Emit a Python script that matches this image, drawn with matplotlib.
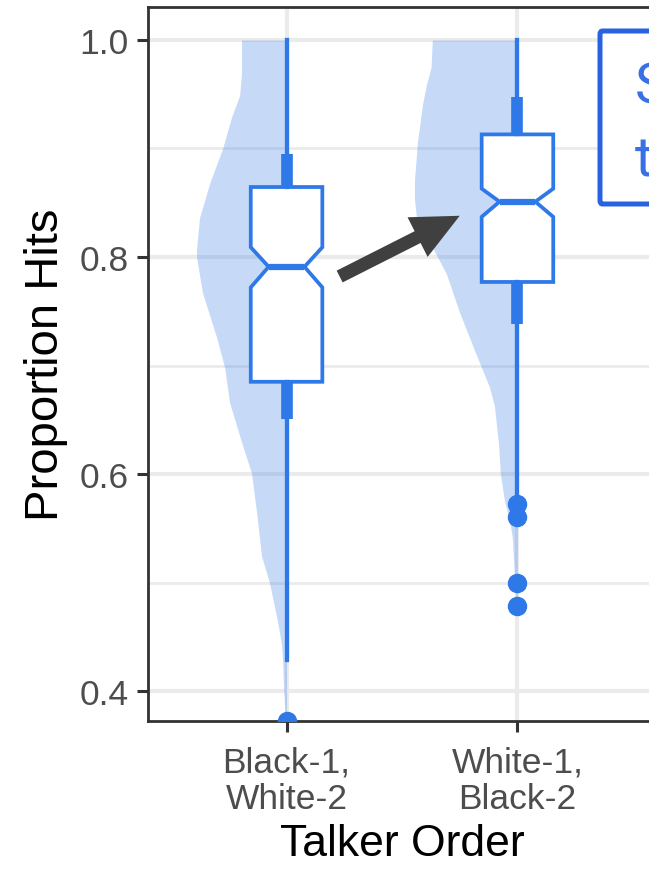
import matplotlib
matplotlib.use("Agg")
import matplotlib.pyplot as plt
from matplotlib.patches import FancyArrowPatch, FancyBboxPatch

plt.rcParams['font.family'] = ['Liberation Sans', 'DejaVu Sans']

BLUE = '#2e78e8'
GRID = '#ebebeb'
FRAME = '#333333'

# talker order groups
groups = ['Black-1,\nWhite-2', 'White-1,\nBlack-2']

# box summaries (proportion hits)
q1 = [0.685, 0.777]
med = [0.791, 0.851]
q3 = [0.8645, 0.913]
notch_lo = [0.772, 0.837]
notch_hi = [0.809, 0.863]
whisk_lo = [0.429, 0.578]
whisk_hi = [1.0, 1.0]
inner_lo = [0.651, 0.738]   # thick inner whisker segment
inner_hi = [0.895, 0.947]
fliers = [[0.372], [0.572, 0.560, 0.500, 0.478]]

# half-violin outline: proportion level and half width
vio1_y = [1.0, 0.970, 0.949, 0.929, 0.900, 0.868, 0.836, 0.807, 0.80, 0.767,
          0.726, 0.698, 0.666, 0.626, 0.601, 0.565, 0.524, 0.50, 0.464,
          0.443, 0.427, 0.403, 0.372]
vio1_w = [0.195, 0.195, 0.203, 0.238, 0.277, 0.333, 0.377, 0.390, 0.390,
          0.364, 0.303, 0.268, 0.247, 0.190, 0.152, 0.130, 0.108, 0.074,
          0.039, 0.022, 0.017, 0.013, 0.004]
vio2_y = [1.0, 0.975, 0.958, 0.941, 0.906, 0.871, 0.853, 0.836, 0.802, 0.784,
          0.749, 0.714, 0.680, 0.663, 0.628, 0.60, 0.575, 0.558, 0.541,
          0.506, 0.478]
vio2_w = [0.369, 0.374, 0.395, 0.411, 0.433, 0.446, 0.446, 0.437, 0.351,
          0.307, 0.251, 0.186, 0.121, 0.100, 0.082, 0.074, 0.056, 0.035,
          0.022, 0.013, 0.004]
violins = [(vio1_y, vio1_w), (vio2_y, vio2_w)]

fig = plt.figure(figsize=(6.49, 8.70), dpi=100)
ax = fig.add_axes([148 / 649, 148 / 870, 508 / 649, 714 / 870])

pos = [1, 2]
for p, (vy, vw) in zip(pos, violins):
    ax.fill_betweenx(vy, [p - w for w in vw], [p] * len(vw),
                     color=BLUE, alpha=0.27, lw=0, zorder=2)

# thick inner whisker parts
ax.vlines(pos, inner_lo, q1, color=BLUE, lw=8.4, zorder=3)
ax.vlines(pos, q3, inner_hi, color=BLUE, lw=8.4, zorder=3)

stats = []
for i in range(2):
    stats.append(dict(med=med[i], q1=q1[i], q3=q3[i], whislo=whisk_lo[i],
                      whishi=whisk_hi[i], cilo=notch_lo[i], cihi=notch_hi[i],
                      fliers=fliers[i]))
ax.bxp(stats, positions=pos, widths=0.31, shownotches=True, showcaps=False,
       patch_artist=True, zorder=4,
       boxprops=dict(facecolor='white', edgecolor=BLUE, linewidth=2.7),
       whiskerprops=dict(color=BLUE, linewidth=3.1),
       medianprops=dict(color=BLUE, linewidth=4.5, solid_capstyle='butt'),
       flierprops=dict(marker='o', markersize=13, markerfacecolor=BLUE,
                       markeredgecolor=BLUE))

# arrow between the two medians
arrow = FancyArrowPatch((1.23, 0.782), (1.75, 0.838),
                        arrowstyle='simple,head_width=3.2,head_length=3.4,tail_width=0.95',
                        mutation_scale=10, color='#404040', lw=0,
                        shrinkA=0, shrinkB=0, zorder=6)
ax.add_patch(arrow)

ax.set_xlim(0.4, 2.6)
ax.set_ylim(0.3724, 1.0304)
ax.set_xticks(pos)
ax.set_xticklabels(groups, linespacing=1.1)
ax.set_yticks([0.4, 0.6, 0.8, 1.0])
ax.set_yticks([0.5, 0.7, 0.9], minor=True)
ax.set_yticklabels(['0.4', '0.6', '0.8', '1.0'])
ax.set_axisbelow(True)
ax.grid(True, which='major', color=GRID, lw=3)
ax.grid(True, which='minor', axis='y', color=GRID, lw=2)
ax.tick_params(axis='both', which='major', length=8, width=2.2, color=FRAME,
               labelsize=25.5, labelcolor='#4d4d4d', pad=6)
ax.tick_params(axis='x', which='major', pad=10)
ax.tick_params(axis='y', which='minor', length=0)
for s in ax.spines.values():
    s.set_color(FRAME)
    s.set_linewidth(2)

ax.set_ylabel('Proportion Hits', fontsize=34, labelpad=8)
ax.set_xlabel('Talker Order', fontsize=32, labelpad=6)

# callout box in the top right
fig.add_artist(FancyBboxPatch((600 / 649, 665 / 870), 200 / 649, 173 / 870,
                              boxstyle='round,pad=0,rounding_size=0.004',
                              transform=fig.transFigure, facecolor='white',
                              edgecolor='#2862e0', lw=3.6, clip_on=False))
fig.text(635 / 649, 767 / 870, 'Significant', fontsize=40, color='#3a70e6',
         family=['Roboto', 'DejaVu Sans'], va='baseline', ha='left')
fig.text(635 / 649, 695 / 870, 'talker-order shift', fontsize=40, color='#3a70e6',
         family=['Roboto', 'DejaVu Sans'], va='baseline', ha='left')

fig.savefig('out.png', dpi=100)
